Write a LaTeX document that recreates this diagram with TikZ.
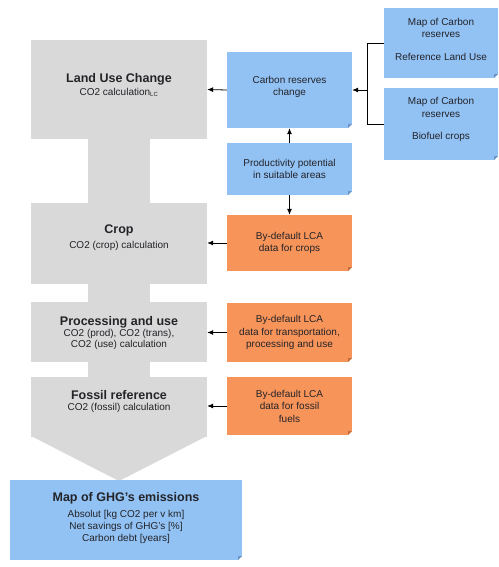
\documentclass[tikz,border=0pt]{standalone}
\usepackage{fontspec}
\setmainfont{Liberation Sans}
\usetikzlibrary{arrows.meta}
\definecolor{grayfill}{RGB}{217,217,217}
\definecolor{bluefill}{RGB}{146,194,244}
\definecolor{bluefold}{RGB}{110,150,200}
\definecolor{orangefill}{RGB}{247,148,90}
\definecolor{orangefold}{RGB}{200,110,60}
\definecolor{txt}{RGB}{35,35,40}
\tikzset{
  txtnorm/.style={font=\fontsize{10}{12.5}\selectfont},
  graybox/.style={fill=grayfill, inner sep=0pt, align=center, text=txt},
  folded/.style={path picture={
      \fill[white] ([xshift=-4pt]path picture bounding box.south east) -- ([yshift=4pt]path picture bounding box.south east) -- (path picture bounding box.south east) -- cycle;
      \fill[#1] ([xshift=-4pt]path picture bounding box.south east) -- ([yshift=4pt]path picture bounding box.south east) -- ([xshift=-4pt,yshift=4pt]path picture bounding box.south east) -- cycle;}},
  bluebox/.style={fill=bluefill, inner sep=0pt, align=center, text=txt, txtnorm, folded=bluefold},
  orangebox/.style={fill=orangefill, inner sep=0pt, align=center, text=txt, txtnorm, folded=orangefold},
  conn/.style={draw=black, line width=0.8pt},
  arr/.style={conn, -{Latex[length=6pt,width=5pt]}},
  ttl/.style={font=\fontsize{12.5}{15}\selectfont\bfseries}
}
\begin{document}
\begin{tikzpicture}[x=1pt,y=-1pt]
\useasboundingbox (0,0) rectangle (498,567);
% gray backbone stems and arrowhead
\fill[grayfill] (88,135) rectangle (150,206);
\fill[grayfill] (88,280) rectangle (150,305);
\fill[grayfill] (88,358) rectangle (150,380);
\fill[grayfill] (31,436) -- (207,436) -- (119,481) -- cycle;
% gray boxes
\node[graybox, minimum width=176pt, minimum height=99pt] (luc) at (119,89.5) {};
\node[txt, align=center] at (119,85) {{\fontsize{12.5}{15}\selectfont\bfseries Land Use Change}\\[1pt]{\fontsize{10}{12}\selectfont CO2 calculation\textsubscript{\fontsize{6}{6}\selectfont LC}}};
\node[graybox, minimum width=176pt, minimum height=81pt] (crop) at (119,243.5) {};
\node[txt, align=center] at (119,238) {{\fontsize{12.5}{15}\selectfont\bfseries Crop}\\[3pt]{\fontsize{10}{12}\selectfont CO2 (crop) calculation}};
\node[graybox, minimum width=176pt, minimum height=60pt] (proc) at (119,332) {};
\node[txt, align=center] at (119,333) {{\fontsize{12.5}{15}\selectfont\bfseries Processing and use}\\[-1pt]{\fontsize{10}{12.5}\selectfont CO2 (prod), CO2 (trans),}\\[-1pt]{\fontsize{10}{12.5}\selectfont CO2 (use) calculation}};
\node[graybox, minimum width=176pt, minimum height=60pt] (foss) at (119,407) {};
\node[txt, align=center] at (119,402) {{\fontsize{12.5}{15}\selectfont\bfseries Fossil reference}\\[-1pt]{\fontsize{10}{12.5}\selectfont CO2 (fossil) calculation}};
% result box
\node[bluebox, minimum width=232pt, minimum height=80pt] (ghg) at (126,520) {};
\node[txt, align=center] at (126,518) {{\fontsize{12.5}{15}\selectfont\bfseries Map of GHG's emissions}\\[4pt]{\fontsize{10}{12}\selectfont Absolut [kg CO2 per v km]}\\{\fontsize{10}{12}\selectfont Net savings of GHG's [\%]}\\{\fontsize{10}{12}\selectfont Carbon debt [years]}};
% middle column
\node[bluebox, minimum width=125pt, minimum height=76pt] (crc) at (289.5,90) {};
\node[txt, txtnorm, align=center] at (289.5,87) {Carbon reserves\\change};
\node[bluebox, minimum width=125pt, minimum height=52pt] (prod) at (289.5,169) {Productivity potential\\in suitable areas};
\node[orangebox, minimum width=125pt, minimum height=56pt] (lcacrop) at (289.5,243) {By-default LCA\\data for crops};
\node[orangebox, minimum width=125pt, minimum height=59pt] (lcaproc) at (289.5,332.5) {By-default LCA\\data for transportation,\\processing and use};
\node[orangebox, minimum width=125pt, minimum height=58pt] (lcafoss) at (289.5,406) {By-default LCA\\data for fossil\\fuels};
% right column
\node[bluebox, minimum width=114pt, minimum height=70pt] (map1) at (441,43) {};
\node[txt, txtnorm, align=center] at (441,39) {Map of Carbon\\reserves\\[10pt]Reference Land Use};
\node[bluebox, minimum width=114pt, minimum height=72pt] (map2) at (441,124) {};
\node[txt, txtnorm, align=center] at (441,119.5) {Map of Carbon\\reserves\\[10pt]Biofuel crops};
% connectors
\coordinate (b1) at (367,43);
\coordinate (b2) at (367,124);
\coordinate (bm) at (367,90);
\draw[conn] (map1.west) -- (b1) -- (b2) -- (map2.west);
\draw[arr] (bm) -- (crc.east);
\draw[arr] (crc.west) -- (luc.east);
\draw[arr] (prod.north) -- (crc.south);
\draw[arr] (prod.south) -- (lcacrop.north);
\draw[arr] (lcacrop.west) -- (lcacrop.west -| crop.east);
\draw[arr] (lcaproc.west) -- (lcaproc.west -| proc.east);
\draw[arr] (lcafoss.west) -- (lcafoss.west -| foss.east);
\end{tikzpicture}
\end{document}
